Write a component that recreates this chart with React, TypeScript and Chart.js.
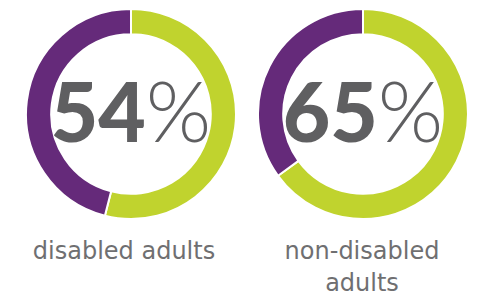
import React, { useEffect, useRef } from "react";
import { Chart, registerables } from "chart.js";

Chart.register(...registerables);

const categories = ["disabled adults", "non-disabled adults"];
const labelLines = [["disabled adults"], ["non-disabled", "adults"]];
const segmentLabels = ["yes", "no"];
const yesValues = [54, 65];
const noValues = [46, 35];
const centerTexts = ["54", "65"];

const GREEN = "#c0d32e";
const PURPLE = "#652a7a";
const GREY = "#5f5f61";

const centerPlugin = {
  id: "centerText",
  afterDraw(chart: any) {
    const txt = chart.options.plugins.centerText?.text;
    if (!txt) return;
    const meta = chart.getDatasetMeta(0);
    const arc = meta.data[0];
    if (!arc) return;
    const { x, y } = arc;
    const ctx = chart.ctx;
    ctx.save();
    ctx.fillStyle = GREY;
    ctx.textBaseline = "alphabetic";
    const numFont = "900 82px Lato";
    const pctFont = "300 84px Lato";
    ctx.font = numFont;
    const w1 = ctx.measureText(txt).width;
    ctx.font = pctFont;
    const w2 = ctx.measureText("%").width;
    const total = w1 + w2;
    const left = x - total / 2;
    const base = y + 28;
    ctx.font = numFont;
    ctx.textAlign = "left";
    ctx.fillText(txt, left, base);
    ctx.font = pctFont;
    ctx.fillText("%", left + w1, base);
    ctx.restore();
  },
};

function Donut({ idx, left }: { idx: number; left: number }) {
  const ref = useRef<HTMLCanvasElement>(null);
  useEffect(() => {
    if (!ref.current) return;
    const chart = new Chart(ref.current, {
      type: "doughnut",
      data: {
        labels: segmentLabels,
        datasets: [
          {
            data: [yesValues[idx], noValues[idx]],
            backgroundColor: [GREEN, PURPLE],
            borderColor: "#ffffff",
            borderWidth: 2,
          },
        ],
      },
      options: {
        responsive: false,
        animation: false,
        cutout: "76%",
        layout: { padding: 0 },
        plugins: {
          legend: { display: false },
          tooltip: { enabled: false },
          centerText: { text: centerTexts[idx] },
        } as any,
      },
      plugins: [centerPlugin],
    });
    return () => chart.destroy();
  }, [idx]);
  return (
    <canvas
      ref={ref}
      width={212}
      height={212}
      style={{ position: "absolute", left, top: 8, width: 212, height: 212 }}
    />
  );
}

export default function App() {
  const centers = [131, 363];
  const labelCenters = [124, 362];
  return (
    <div
      style={{
        position: "fixed",
        left: 0,
        top: 0,
        width: 484,
        height: 293,
        background: "#ffffff",
        overflow: "hidden",
      }}
    >
      {categories.map((c, i) => (
        <Donut key={c} idx={i} left={centers[i] - 106} />
      ))}
      {categories.map((c, i) => (
        <div
          key={"l" + c}
          style={{
            position: "absolute",
            left: labelCenters[i] - 130,
            width: 260,
            top: 235,
            textAlign: "center",
            fontFamily: "'DejaVu Sans'",
            fontWeight: 400,
            fontSize: 24,
            lineHeight: "32px",
            color: "#6f6f71",
            whiteSpace: "nowrap",
          }}
        >
          {labelLines[i].map((l) => (
            <div key={l}>{l}</div>
          ))}
        </div>
      ))}
    </div>
  );
}
